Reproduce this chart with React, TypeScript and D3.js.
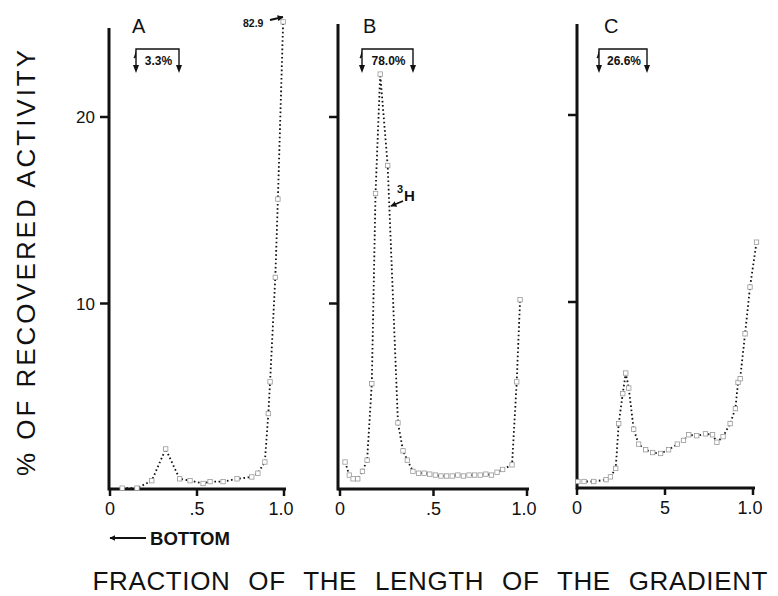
import { useEffect, useRef } from 'react';
import * as d3 from 'd3';

// fraction of gradient length (x) and % recovered activity (y)
const fracA = [0.07, 0.155, 0.24, 0.32, 0.40, 0.46, 0.535, 0.575, 0.65, 0.73, 0.815, 0.85, 0.89, 0.91, 0.92, 0.95, 0.965, 0.995];
const valA = [0.1, 0.1, 0.5, 2.2, 0.6, 0.5, 0.35, 0.45, 0.45, 0.6, 0.7, 0.9, 1.5, 4.1, 5.8, 11.4, 15.6, 25.1];

const fracB = [0.027, 0.05, 0.07, 0.095, 0.12, 0.145, 0.17, 0.19, 0.215, 0.255, 0.31, 0.337, 0.36, 0.39, 0.42, 0.45, 0.48, 0.51, 0.54, 0.57, 0.60, 0.63, 0.66, 0.69, 0.72, 0.75, 0.78, 0.81, 0.84, 0.87, 0.92, 0.945, 0.963];
const valB = [1.5, 0.8, 0.6, 0.6, 1.0, 1.6, 5.7, 15.9, 22.3, 17.4, 3.6, 2.1, 1.6, 1.0, 0.9, 0.9, 0.85, 0.8, 0.75, 0.75, 0.75, 0.8, 0.75, 0.8, 0.8, 0.8, 0.85, 0.8, 0.95, 1.1, 1.35, 5.8, 10.2];

const fracC = [0.005, 0.04, 0.095, 0.165, 0.19, 0.22, 0.237, 0.26, 0.277, 0.294, 0.322, 0.35, 0.39, 0.43, 0.475, 0.52, 0.57, 0.605, 0.635, 0.68, 0.73, 0.77, 0.795, 0.83, 0.87, 0.90, 0.915, 0.927, 0.955, 0.983, 1.02];
const valC = [0.4, 0.4, 0.4, 0.5, 0.65, 1.1, 3.5, 5.1, 6.2, 5.4, 3.2, 2.4, 2.1, 1.95, 1.9, 2.1, 2.4, 2.6, 2.9, 2.85, 2.95, 2.9, 2.5, 2.8, 3.5, 4.3, 5.7, 5.9, 8.3, 10.8, 13.2];

const xTickValues = [0, 0.5, 1];
const xTickLabelsAB = ['0', '.5', '1.0'];
const xTickLabelsC = ['0', '5', '1.0'];
const yTickValues = [10, 20];
const yTickLabels = ['10', '20'];
const panelLetters = ['A', 'B', 'C'];
const recoveredLabels = ['3.3%', '78.0%', '26.6%'];
const offScaleA = '82.9';

const W = 778;
const H = 596;

export default function App() {
  const svgRef = useRef<SVGSVGElement>(null);

  useEffect(() => {
    const svg = d3.select(svgRef.current);
    svg.selectAll('*').remove();
    const font = '"Liberation Sans", Arial, sans-serif';

    const panels = [
      { frac: fracA, val: valA, tickLabels: xTickLabelsAB, axisX: 109, x0: 110, x1: 284, xEnd: 286, yTop: 28, yZero: 490, yTwenty: 117, letterX: 132, box: [136, 179] },
      { frac: fracB, val: valB, tickLabels: xTickLabelsAB, axisX: 338, x0: 340, x1: 527, xEnd: 529, yTop: 24, yZero: 490, yTwenty: 117, letterX: 363, box: [362, 413] },
      { frac: fracC, val: valC, tickLabels: xTickLabelsC, axisX: 577, x0: 577, x1: 753, xEnd: 755, yTop: 24, yZero: 489, yTwenty: 115, letterX: 604, box: [599, 647] },
    ];

    // arrow marker
    const defs = svg.append('defs');
    defs.append('marker')
      .attr('id', 'arr')
      .attr('viewBox', '0 0 10 10')
      .attr('refX', 9).attr('refY', 5)
      .attr('markerWidth', 6).attr('markerHeight', 6)
      .attr('markerUnits', 'userSpaceOnUse')
      .attr('orient', 'auto')
      .append('path')
      .attr('d', 'M0,0 L10,5 L0,10 z')
      .attr('fill', '#111');

    panels.forEach((p, i) => {
      const x = d3.scaleLinear().domain([0, 1]).range([p.x0, p.x1]);
      const y = d3.scaleLinear().domain([0, 20]).range([p.yZero, p.yTwenty]);
      const g = svg.append('g');
      const base = y(0) - 1;

      // axes
      g.append('line')
        .attr('x1', p.axisX).attr('x2', p.axisX)
        .attr('y1', p.yTop).attr('y2', base + 1.5)
        .attr('stroke', '#111').attr('stroke-width', 3);
      g.append('line')
        .attr('x1', p.axisX).attr('x2', p.xEnd)
        .attr('y1', base).attr('y2', base)
        .attr('stroke', '#111').attr('stroke-width', 3);

      xTickValues.forEach((t, k) => {
        g.append('line')
          .attr('x1', x(t)).attr('x2', x(t))
          .attr('y1', base).attr('y2', base + 7)
          .attr('stroke', '#111').attr('stroke-width', 2.5);
        g.append('text')
          .attr('x', x(t) + (k === 2 ? -3 : 0)).attr('y', base + 26)
          .attr('text-anchor', 'middle')
          .attr('font-family', font).attr('font-size', 18)
          .attr('fill', '#111')
          .text(p.tickLabels[k]);
      });

      yTickValues.forEach((t, k) => {
        g.append('line')
          .attr('x1', p.axisX - 9).attr('x2', p.axisX)
          .attr('y1', y(t)).attr('y2', y(t))
          .attr('stroke', '#111').attr('stroke-width', 2.5);
        if (i === 0) {
          g.append('text')
            .attr('x', p.axisX - 14).attr('y', y(t) + 6)
            .attr('text-anchor', 'end')
            .attr('font-family', font).attr('font-size', 17)
            .attr('fill', '#111')
            .text(yTickLabels[k]);
        }
      });

      // panel letter
      g.append('text')
        .attr('x', p.letterX).attr('y', 33)
        .attr('font-family', font).attr('font-size', 20)
        .attr('fill', '#111')
        .text(panelLetters[i]);

      // recovered-fraction bracket
      const [bl, br] = p.box;
      g.append('path')
        .attr('d', `M${bl - 2},58 Q${bl},56 ${bl},49 L${br},49 L${br},67 M${bl},49 L${bl},67`)
        .attr('fill', 'none').attr('stroke', '#111').attr('stroke-width', 1.4);
      [bl, br].forEach(bx => {
        g.append('path')
          .attr('d', `M${bx - 3},65 L${bx + 3},65 L${bx},73 z`)
          .attr('fill', '#111');
      });
      g.append('text')
        .attr('x', (bl + br) / 2 + 1).attr('y', 65)
        .attr('text-anchor', 'middle')
        .attr('font-family', font).attr('font-size', 12).attr('font-weight', 'bold')
        .attr('fill', '#111')
        .text(recoveredLabels[i]);

      // data
      const pts = p.frac.map((f, k) => [f, p.val[k]] as [number, number]);
      const line = d3.line<[number, number]>()
        .x(d => x(d[0]))
        .y(d => y(d[1]));
      g.append('path')
        .attr('d', line(pts))
        .attr('fill', 'none')
        .attr('stroke', '#111')
        .attr('stroke-width', 1.8)
        .attr('stroke-dasharray', '1.6 2.6');
      g.selectAll('rect.pt')
        .data(pts)
        .enter()
        .append('rect')
        .attr('class', 'pt')
        .attr('x', d => x(d[0]) - 2.2)
        .attr('y', d => y(d[1]) - 2.2)
        .attr('width', 4.4).attr('height', 4.4)
        .attr('fill', 'white')
        .attr('stroke', '#999').attr('stroke-width', 0.8);
    });

    // annotations
    svg.append('text')
      .attr('x', 243).attr('y', 27)
      .attr('font-family', font).attr('font-size', 10.5).attr('font-weight', 'bold')
      .attr('fill', '#111')
      .text(offScaleA);
    svg.append('line')
      .attr('x1', 270).attr('y1', 20).attr('x2', 283).attr('y2', 17)
      .attr('stroke', '#111').attr('stroke-width', 2)
      .attr('marker-end', 'url(#arr)');

    svg.append('text')
      .attr('x', 397).attr('y', 193)
      .attr('font-family', font).attr('font-size', 11).attr('font-weight', 'bold')
      .attr('fill', '#111')
      .text('3');
    svg.append('text')
      .attr('x', 404).attr('y', 201)
      .attr('font-family', font).attr('font-size', 15).attr('font-weight', 'bold')
      .attr('fill', '#111')
      .text('H');
    svg.append('line')
      .attr('x1', 403).attr('y1', 201).attr('x2', 391).attr('y2', 206)
      .attr('stroke', '#111').attr('stroke-width', 1.8)
      .attr('marker-end', 'url(#arr)');

    // BOTTOM arrow
    svg.append('line')
      .attr('x1', 146).attr('y1', 538).attr('x2', 110).attr('y2', 538)
      .attr('stroke', '#111').attr('stroke-width', 1.8)
      .attr('marker-end', 'url(#arr)');
    svg.append('text')
      .attr('x', 150).attr('y', 545)
      .attr('font-family', font).attr('font-size', 18).attr('font-weight', 'bold')
      .attr('textLength', 80).attr('lengthAdjust', 'spacingAndGlyphs')
      .attr('fill', '#111')
      .text('BOTTOM');

    // axis titles
    svg.append('text')
      .attr('transform', 'translate(35,263) rotate(-90)')
      .attr('text-anchor', 'middle')
      .attr('font-family', font).attr('font-size', 26)
      .attr('textLength', 426).attr('lengthAdjust', 'spacing')
      .attr('fill', '#111')
      .text('% OF RECOVERED ACTIVITY');
    svg.append('text')
      .attr('x', 430).attr('y', 590)
      .attr('text-anchor', 'middle')
      .attr('font-family', font).attr('font-size', 26)
      .attr('word-spacing', 10)
      .attr('textLength', 675).attr('lengthAdjust', 'spacing')
      .attr('fill', '#111')
      .text('FRACTION OF THE LENGTH OF THE GRADIENT');
  }, []);

  return (
    <svg
      ref={svgRef}
      width={W}
      height={H}
      style={{ position: 'absolute', left: 0, top: 0, background: 'white' }}
    />
  );
}
